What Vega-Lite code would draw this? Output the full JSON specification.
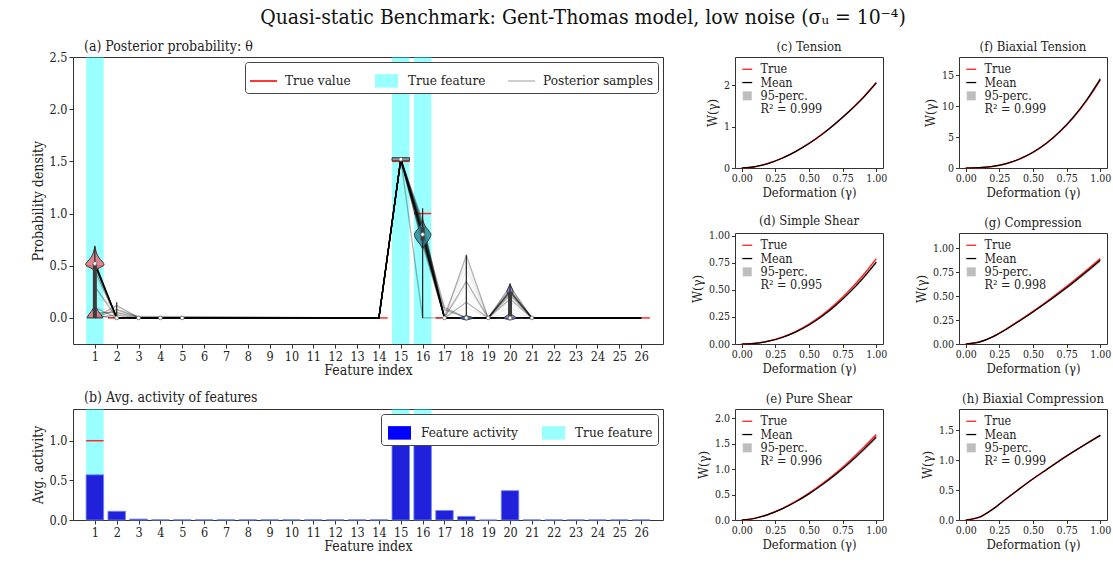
{
"$schema": "https://vega.github.io/schema/vega-lite/v6.json",
"background": "white",
"padding": {"left": 30, "top": 6, "right": 5, "bottom": 5},
"title": {"text": "Quasi-static Benchmark: Gent-Thomas model, low noise (σᵤ = 10⁻⁴)", "fontSize": 21, "font": "DejaVu Serif Condensed, DejaVu Serif", "fontWeight": "normal", "anchor": "middle", "offset": 12, "dx": 12, "color": "#111"},
"config": {
  "font": "DejaVu Serif Condensed, DejaVu Serif",
  "view": {"stroke": "#333", "strokeWidth": 1},
  "axis": {"grid": false, "domain": false, "tickColor": "#333", "tickSize": 4, "labelColor": "#222", "titleFontWeight": "normal", "titleColor": "#222", "labelFontSize": 12.5, "titleFontSize": 14, "labelFlush": false, "labelOverlap": false, "labelPadding": 2, "tickCount": 40},
  "axisX": {"titlePadding": 1},
  "scale": {"continuousPadding": 0},
  "title": {"fontWeight": "normal", "color": "#222"},
  "legend": {"labelColor": "#222", "symbolOpacity": 1}
},
"datasets": {
  "trueFeat": [{"f":1},{"f":15},{"f":16}],
  "trueVal": [{"f":1,"v":0.5},{"f":2,"v":0},{"f":3,"v":0},{"f":4,"v":0},{"f":5,"v":0},{"f":6,"v":0},{"f":7,"v":0},{"f":8,"v":0},{"f":9,"v":0},{"f":10,"v":0},{"f":11,"v":0},{"f":12,"v":0},{"f":13,"v":0},{"f":14,"v":0},{"f":15,"v":1.5},{"f":16,"v":1.0},{"f":17,"v":0},{"f":18,"v":0},{"f":19,"v":0},{"f":20,"v":0},{"f":21,"v":0},{"f":22,"v":0},{"f":23,"v":0},{"f":24,"v":0},{"f":25,"v":0},{"f":26,"v":0}],
  "trueAct": [{"f":1,"v":1},{"f":15,"v":1},{"f":16,"v":1}],
  "samples": [
{"s":1,"f":1,"v":0.52},{"s":1,"f":2,"v":0},{"s":1,"f":3,"v":0},{"s":1,"f":14,"v":0},{"s":1,"f":15,"v":1.52},{"s":1,"f":16,"v":0.80},{"s":1,"f":17,"v":0},{"s":1,"f":18,"v":0},{"s":1,"f":19,"v":0},{"s":1,"f":20,"v":0},{"s":1,"f":21,"v":0},{"s":1,"f":26,"v":0},
{"s":2,"f":1,"v":0.51},{"s":2,"f":2,"v":0},{"s":2,"f":3,"v":0},{"s":2,"f":14,"v":0},{"s":2,"f":15,"v":1.52},{"s":2,"f":16,"v":0.82},{"s":2,"f":17,"v":0},{"s":2,"f":18,"v":0},{"s":2,"f":19,"v":0},{"s":2,"f":20,"v":0.25},{"s":2,"f":21,"v":0},{"s":2,"f":26,"v":0},
{"s":3,"f":1,"v":0.53},{"s":3,"f":2,"v":0},{"s":3,"f":3,"v":0},{"s":3,"f":14,"v":0},{"s":3,"f":15,"v":1.53},{"s":3,"f":16,"v":0.78},{"s":3,"f":17,"v":0},{"s":3,"f":18,"v":0},{"s":3,"f":19,"v":0},{"s":3,"f":20,"v":0.26},{"s":3,"f":21,"v":0},{"s":3,"f":26,"v":0},
{"s":4,"f":1,"v":0.50},{"s":4,"f":2,"v":0},{"s":4,"f":3,"v":0},{"s":4,"f":14,"v":0},{"s":4,"f":15,"v":1.52},{"s":4,"f":16,"v":0.85},{"s":4,"f":17,"v":0},{"s":4,"f":18,"v":0},{"s":4,"f":19,"v":0},{"s":4,"f":20,"v":0},{"s":4,"f":21,"v":0},{"s":4,"f":26,"v":0},
{"s":5,"f":1,"v":0.52},{"s":5,"f":2,"v":0},{"s":5,"f":3,"v":0},{"s":5,"f":14,"v":0},{"s":5,"f":15,"v":1.51},{"s":5,"f":16,"v":0.79},{"s":5,"f":17,"v":0},{"s":5,"f":18,"v":0},{"s":5,"f":19,"v":0},{"s":5,"f":20,"v":0.24},{"s":5,"f":21,"v":0},{"s":5,"f":26,"v":0},
{"s":6,"f":1,"v":0.54},{"s":6,"f":2,"v":0},{"s":6,"f":3,"v":0},{"s":6,"f":14,"v":0},{"s":6,"f":15,"v":1.52},{"s":6,"f":16,"v":0.76},{"s":6,"f":17,"v":0},{"s":6,"f":18,"v":0},{"s":6,"f":19,"v":0},{"s":6,"f":20,"v":0},{"s":6,"f":21,"v":0},{"s":6,"f":26,"v":0},
{"s":7,"f":1,"v":0.51},{"s":7,"f":2,"v":0},{"s":7,"f":3,"v":0},{"s":7,"f":14,"v":0},{"s":7,"f":15,"v":1.52},{"s":7,"f":16,"v":0.83},{"s":7,"f":17,"v":0},{"s":7,"f":18,"v":0},{"s":7,"f":19,"v":0},{"s":7,"f":20,"v":0},{"s":7,"f":21,"v":0},{"s":7,"f":26,"v":0},
{"s":8,"f":1,"v":0.52},{"s":8,"f":2,"v":0},{"s":8,"f":3,"v":0},{"s":8,"f":14,"v":0},{"s":8,"f":15,"v":1.52},{"s":8,"f":16,"v":0.81},{"s":8,"f":17,"v":0},{"s":8,"f":18,"v":0},{"s":8,"f":19,"v":0},{"s":8,"f":20,"v":0.27},{"s":8,"f":21,"v":0},{"s":8,"f":26,"v":0},
{"s":9,"f":1,"v":0.49},{"s":9,"f":2,"v":0},{"s":9,"f":3,"v":0},{"s":9,"f":14,"v":0},{"s":9,"f":15,"v":1.53},{"s":9,"f":16,"v":0.88},{"s":9,"f":17,"v":0},{"s":9,"f":18,"v":0},{"s":9,"f":19,"v":0},{"s":9,"f":20,"v":0},{"s":9,"f":21,"v":0},{"s":9,"f":26,"v":0},
{"s":10,"f":1,"v":0.53},{"s":10,"f":2,"v":0},{"s":10,"f":3,"v":0},{"s":10,"f":14,"v":0},{"s":10,"f":15,"v":1.52},{"s":10,"f":16,"v":0.77},{"s":10,"f":17,"v":0},{"s":10,"f":18,"v":0},{"s":10,"f":19,"v":0},{"s":10,"f":20,"v":0},{"s":10,"f":21,"v":0},{"s":10,"f":26,"v":0},
{"s":11,"f":1,"v":0.52},{"s":11,"f":2,"v":0},{"s":11,"f":3,"v":0},{"s":11,"f":14,"v":0},{"s":11,"f":15,"v":1.52},{"s":11,"f":16,"v":0.80},{"s":11,"f":17,"v":0},{"s":11,"f":18,"v":0},{"s":11,"f":19,"v":0},{"s":11,"f":20,"v":0.25},{"s":11,"f":21,"v":0},{"s":11,"f":26,"v":0},
{"s":12,"f":1,"v":0},{"s":12,"f":2,"v":0.12},{"s":12,"f":3,"v":0},{"s":12,"f":14,"v":0},{"s":12,"f":15,"v":1.52},{"s":12,"f":16,"v":0.74},{"s":12,"f":17,"v":0},{"s":12,"f":18,"v":0},{"s":12,"f":19,"v":0},{"s":12,"f":20,"v":0},{"s":12,"f":21,"v":0},{"s":12,"f":26,"v":0},
{"s":13,"f":1,"v":0.05},{"s":13,"f":2,"v":0.05},{"s":13,"f":3,"v":0.01},{"s":13,"f":14,"v":0},{"s":13,"f":15,"v":1.52},{"s":13,"f":16,"v":0.90},{"s":13,"f":17,"v":0},{"s":13,"f":18,"v":0},{"s":13,"f":19,"v":0},{"s":13,"f":20,"v":0},{"s":13,"f":21,"v":0},{"s":13,"f":26,"v":0},
{"s":14,"f":1,"v":0.02},{"s":14,"f":2,"v":0},{"s":14,"f":3,"v":0},{"s":14,"f":14,"v":0},{"s":14,"f":15,"v":1.51},{"s":14,"f":16,"v":0.72},{"s":14,"f":17,"v":0.08},{"s":14,"f":18,"v":0},{"s":14,"f":19,"v":0},{"s":14,"f":20,"v":0},{"s":14,"f":21,"v":0},{"s":14,"f":26,"v":0},
{"s":15,"f":1,"v":0},{"s":15,"f":2,"v":0.03},{"s":15,"f":3,"v":0},{"s":15,"f":14,"v":0},{"s":15,"f":15,"v":1.52},{"s":15,"f":16,"v":0.93},{"s":15,"f":17,"v":0},{"s":15,"f":18,"v":0.6},{"s":15,"f":19,"v":0},{"s":15,"f":20,"v":0},{"s":15,"f":21,"v":0},{"s":15,"f":26,"v":0},
{"s":16,"f":1,"v":0.1},{"s":16,"f":2,"v":0},{"s":16,"f":3,"v":0},{"s":16,"f":14,"v":0},{"s":16,"f":15,"v":1.52},{"s":16,"f":16,"v":0.70},{"s":16,"f":17,"v":0},{"s":16,"f":18,"v":0.35},{"s":16,"f":19,"v":0},{"s":16,"f":20,"v":0},{"s":16,"f":21,"v":0},{"s":16,"f":26,"v":0},
{"s":17,"f":1,"v":0},{"s":17,"f":2,"v":0.08},{"s":17,"f":3,"v":0.01},{"s":17,"f":14,"v":0},{"s":17,"f":15,"v":1.52},{"s":17,"f":16,"v":0.86},{"s":17,"f":17,"v":0},{"s":17,"f":18,"v":0},{"s":17,"f":19,"v":0},{"s":17,"f":20,"v":0.3},{"s":17,"f":21,"v":0},{"s":17,"f":26,"v":0},
{"s":18,"f":1,"v":0.3},{"s":18,"f":2,"v":0},{"s":18,"f":3,"v":0},{"s":18,"f":14,"v":0},{"s":18,"f":15,"v":1.52},{"s":18,"f":16,"v":0},{"s":18,"f":17,"v":0},{"s":18,"f":18,"v":0},{"s":18,"f":19,"v":0},{"s":18,"f":20,"v":0},{"s":18,"f":21,"v":0},{"s":18,"f":26,"v":0},
{"s":19,"f":1,"v":0.52},{"s":19,"f":2,"v":0},{"s":19,"f":3,"v":0},{"s":19,"f":14,"v":0},{"s":19,"f":15,"v":1.52},{"s":19,"f":16,"v":0.84},{"s":19,"f":17,"v":0.1},{"s":19,"f":18,"v":0},{"s":19,"f":19,"v":0},{"s":19,"f":20,"v":0.22},{"s":19,"f":21,"v":0},{"s":19,"f":26,"v":0},
{"s":20,"f":1,"v":0.45},{"s":20,"f":2,"v":0},{"s":20,"f":3,"v":0},{"s":20,"f":14,"v":0},{"s":20,"f":15,"v":1.52},{"s":20,"f":16,"v":0.79},{"s":20,"f":17,"v":0},{"s":20,"f":18,"v":0.15},{"s":20,"f":19,"v":0},{"s":20,"f":20,"v":0.18},{"s":20,"f":21,"v":0},{"s":20,"f":26,"v":0}
  ],
  "faint": [
{"s":1,"f":1,"v":0.3},{"s":1,"f":2,"v":0.05},{"s":1,"f":3,"v":0},{"s":1,"f":14,"v":0},{"s":1,"f":15,"v":1.52},{"s":1,"f":16,"v":0.85},{"s":1,"f":17,"v":0},{"s":1,"f":18,"v":0.45},{"s":1,"f":19,"v":0},{"s":1,"f":20,"v":0.1},{"s":1,"f":21,"v":0},{"s":1,"f":26,"v":0},
{"s":2,"f":1,"v":0.2},{"s":2,"f":2,"v":0.1},{"s":2,"f":3,"v":0.02},{"s":2,"f":14,"v":0},{"s":2,"f":15,"v":1.52},{"s":2,"f":16,"v":0.8},{"s":2,"f":17,"v":0.02},{"s":2,"f":18,"v":0.3},{"s":2,"f":19,"v":0},{"s":2,"f":20,"v":0.2},{"s":2,"f":21,"v":0},{"s":2,"f":26,"v":0},
{"s":3,"f":1,"v":0.4},{"s":3,"f":2,"v":0.02},{"s":3,"f":3,"v":0},{"s":3,"f":14,"v":0},{"s":3,"f":15,"v":1.52},{"s":3,"f":16,"v":0.78},{"s":3,"f":17,"v":0},{"s":3,"f":18,"v":0.2},{"s":3,"f":19,"v":0},{"s":3,"f":20,"v":0.3},{"s":3,"f":21,"v":0},{"s":3,"f":26,"v":0},
{"s":4,"f":1,"v":0.1},{"s":4,"f":2,"v":0.06},{"s":4,"f":3,"v":0.01},{"s":4,"f":14,"v":0},{"s":4,"f":15,"v":1.52},{"s":4,"f":16,"v":0.9},{"s":4,"f":17,"v":0.05},{"s":4,"f":18,"v":0.5},{"s":4,"f":19,"v":0},{"s":4,"f":20,"v":0.15},{"s":4,"f":21,"v":0},{"s":4,"f":26,"v":0},
{"s":5,"f":1,"v":0.45},{"s":5,"f":2,"v":0},{"s":5,"f":3,"v":0},{"s":5,"f":14,"v":0},{"s":5,"f":15,"v":1.52},{"s":5,"f":16,"v":0.82},{"s":5,"f":17,"v":0},{"s":5,"f":18,"v":0.1},{"s":5,"f":19,"v":0},{"s":5,"f":20,"v":0.28},{"s":5,"f":21,"v":0},{"s":5,"f":26,"v":0},
{"s":6,"f":1,"v":0.25},{"s":6,"f":2,"v":0.08},{"s":6,"f":3,"v":0},{"s":6,"f":14,"v":0},{"s":6,"f":15,"v":1.52},{"s":6,"f":16,"v":0.76},{"s":6,"f":17,"v":0.03},{"s":6,"f":18,"v":0.55},{"s":6,"f":19,"v":0},{"s":6,"f":20,"v":0.05},{"s":6,"f":21,"v":0},{"s":6,"f":26,"v":0}
  ],
  "violins": [
{"vid":"v1a","c":"p1","y":0,"xl":0.64,"xr":1.36},{"vid":"v1a","c":"p1","y":0.03,"xl":0.72,"xr":1.28},{"vid":"v1a","c":"p1","y":0.06,"xl":0.83,"xr":1.17},{"vid":"v1a","c":"p1","y":0.09,"xl":0.92,"xr":1.08},{"vid":"v1a","c":"p1","y":0.12,"xl":0.97,"xr":1.03},{"vid":"v1a","c":"p1","y":0.14,"xl":1,"xr":1},
{"vid":"v1b","c":"p1","y":0.44,"xl":1,"xr":1},{"vid":"v1b","c":"p1","y":0.47,"xl":0.88,"xr":1.12},{"vid":"v1b","c":"p1","y":0.49,"xl":0.7,"xr":1.3},{"vid":"v1b","c":"p1","y":0.51,"xl":0.58,"xr":1.42},{"vid":"v1b","c":"p1","y":0.53,"xl":0.62,"xr":1.38},{"vid":"v1b","c":"p1","y":0.56,"xl":0.75,"xr":1.25},{"vid":"v1b","c":"p1","y":0.6,"xl":0.88,"xr":1.12},{"vid":"v1b","c":"p1","y":0.64,"xl":0.95,"xr":1.05},{"vid":"v1b","c":"p1","y":0.69,"xl":1,"xr":1},
{"vid":"v15","c":"p15","y":1.505,"xl":14.6,"xr":15.4},{"vid":"v15","c":"p15","y":1.535,"xl":14.6,"xr":15.4},
{"vid":"v16","c":"p16","y":0.66,"xl":16,"xr":16},{"vid":"v16","c":"p16","y":0.7,"xl":15.9,"xr":16.1},{"vid":"v16","c":"p16","y":0.74,"xl":15.75,"xr":16.25},{"vid":"v16","c":"p16","y":0.78,"xl":15.64,"xr":16.36},{"vid":"v16","c":"p16","y":0.8,"xl":15.62,"xr":16.38},{"vid":"v16","c":"p16","y":0.83,"xl":15.7,"xr":16.3},{"vid":"v16","c":"p16","y":0.87,"xl":15.85,"xr":16.15},{"vid":"v16","c":"p16","y":0.91,"xl":15.95,"xr":16.05},{"vid":"v16","c":"p16","y":0.95,"xl":16,"xr":16},
{"vid":"v18","c":"p18","y":-0.02,"xl":18,"xr":18},{"vid":"v18","c":"p18","y":0,"xl":17.7,"xr":18.3},{"vid":"v18","c":"p18","y":0.02,"xl":18,"xr":18},
{"vid":"v20a","c":"p20","y":-0.02,"xl":20,"xr":20},{"vid":"v20a","c":"p20","y":0,"xl":19.72,"xr":20.28},{"vid":"v20a","c":"p20","y":0.015,"xl":19.8,"xr":20.2},{"vid":"v20a","c":"p20","y":0.035,"xl":19.95,"xr":20.05},{"vid":"v20a","c":"p20","y":0.05,"xl":20,"xr":20},
{"vid":"v20b","c":"p20","y":0.19,"xl":20,"xr":20},{"vid":"v20b","c":"p20","y":0.22,"xl":19.92,"xr":20.08},{"vid":"v20b","c":"p20","y":0.25,"xl":19.86,"xr":20.14},{"vid":"v20b","c":"p20","y":0.28,"xl":19.9,"xr":20.1},{"vid":"v20b","c":"p20","y":0.31,"xl":19.97,"xr":20.03},{"vid":"v20b","c":"p20","y":0.33,"xl":20,"xr":20}
  ],
  "whisk": [{"f":1,"lo":0,"hi":0.68},{"f":2,"lo":0,"hi":0.15},{"f":16,"lo":0,"hi":1.05},{"f":18,"lo":0,"hi":0.6},{"f":20,"lo":0,"hi":0.32}],
  "boxes": [{"f":1,"lo":0,"hi":0.52},{"f":16,"lo":0.74,"hi":0.87},{"f":20,"lo":0,"hi":0.25}],
  "medians": [{"f":1,"v":0.52},{"f":2,"v":0},{"f":3,"v":0},{"f":4,"v":0},{"f":5,"v":0},{"f":15,"v":1.52},{"f":16,"v":0.8},{"f":17,"v":0},{"f":18,"v":0},{"f":19,"v":0},{"f":20,"v":0},{"f":21,"v":0}],
  "activity": [{"f":1,"a":0.57},{"f":2,"a":0.11},{"f":3,"a":0.012},{"f":4,"a":0.003},{"f":5,"a":0.003},{"f":6,"a":0.003},{"f":7,"a":0.003},{"f":8,"a":0.003},{"f":9,"a":0.003},{"f":10,"a":0.003},{"f":11,"a":0.003},{"f":12,"a":0.003},{"f":13,"a":0.003},{"f":14,"a":0.003},{"f":15,"a":1.0},{"f":16,"a":0.99},{"f":17,"a":0.12},{"f":18,"a":0.045},{"f":19,"a":0.0},{"f":20,"a":0.37},{"f":21,"a":0.002},{"f":22,"a":0.002},{"f":23,"a":0.002},{"f":24,"a":0.002},{"f":25,"a":0.002},{"f":26,"a":0.002}],
  "c": [{"g":0,"t":0,"m":0,"lo":0,"hi":0},{"g":0.1,"t":0.033,"m":0.033,"lo":0.032,"hi":0.034},{"g":0.2,"t":0.114,"m":0.113,"lo":0.111,"hi":0.115},{"g":0.3,"t":0.239,"m":0.238,"lo":0.234,"hi":0.242},{"g":0.4,"t":0.399,"m":0.397,"lo":0.391,"hi":0.403},{"g":0.5,"t":0.594,"m":0.591,"lo":0.582,"hi":0.6},{"g":0.6,"t":0.825,"m":0.821,"lo":0.809,"hi":0.833},{"g":0.7,"t":1.09,"m":1.085,"lo":1.069,"hi":1.101},{"g":0.8,"t":1.38,"m":1.374,"lo":1.354,"hi":1.394},{"g":0.9,"t":1.7,"m":1.693,"lo":1.668,"hi":1.718},{"g":1.0,"t":2.07,"m":2.062,"lo":2.031,"hi":2.093}],
  "f": [{"g":0,"t":0,"m":0,"lo":0,"hi":0},{"g":0.1,"t":0.045,"m":0.046,"lo":0.044,"hi":0.048},{"g":0.2,"t":0.256,"m":0.26,"lo":0.252,"hi":0.268},{"g":0.3,"t":0.7,"m":0.71,"lo":0.69,"hi":0.73},{"g":0.4,"t":1.45,"m":1.47,"lo":1.43,"hi":1.51},{"g":0.5,"t":2.53,"m":2.56,"lo":2.49,"hi":2.63},{"g":0.6,"t":3.99,"m":4.03,"lo":3.92,"hi":4.14},{"g":0.7,"t":5.87,"m":5.93,"lo":5.77,"hi":6.09},{"g":0.8,"t":8.18,"m":8.26,"lo":8.04,"hi":8.48},{"g":0.9,"t":10.97,"m":11.07,"lo":10.78,"hi":11.36},{"g":1.0,"t":14.3,"m":14.42,"lo":14.05,"hi":14.79}],
  "d": [{"g":0,"t":0,"m":0,"lo":0,"hi":0},{"g":0.1,"t":0.0063,"m":0.006,"lo":0.0058,"hi":0.0062},{"g":0.2,"t":0.027,"m":0.026,"lo":0.025,"hi":0.027},{"g":0.3,"t":0.063,"m":0.06,"lo":0.058,"hi":0.062},{"g":0.4,"t":0.115,"m":0.11,"lo":0.107,"hi":0.113},{"g":0.5,"t":0.184,"m":0.176,"lo":0.171,"hi":0.181},{"g":0.6,"t":0.27,"m":0.259,"lo":0.252,"hi":0.266},{"g":0.7,"t":0.374,"m":0.359,"lo":0.349,"hi":0.368},{"g":0.8,"t":0.495,"m":0.475,"lo":0.462,"hi":0.487},{"g":0.9,"t":0.633,"m":0.608,"lo":0.592,"hi":0.623},{"g":1.0,"t":0.79,"m":0.758,"lo":0.738,"hi":0.777}],
  "g": [{"g":0,"t":0,"m":0,"lo":0,"hi":0},{"g":0.1,"t":0.02,"m":0.02,"lo":0.019,"hi":0.021},{"g":0.2,"t":0.075,"m":0.074,"lo":0.072,"hi":0.076},{"g":0.3,"t":0.155,"m":0.152,"lo":0.148,"hi":0.156},{"g":0.4,"t":0.245,"m":0.241,"lo":0.235,"hi":0.247},{"g":0.5,"t":0.34,"m":0.334,"lo":0.326,"hi":0.342},{"g":0.6,"t":0.44,"m":0.432,"lo":0.421,"hi":0.443},{"g":0.7,"t":0.545,"m":0.535,"lo":0.522,"hi":0.548},{"g":0.8,"t":0.655,"m":0.642,"lo":0.626,"hi":0.658},{"g":0.9,"t":0.77,"m":0.755,"lo":0.736,"hi":0.774},{"g":1.0,"t":0.89,"m":0.873,"lo":0.851,"hi":0.895}],
  "e": [{"g":0,"t":0,"m":0,"lo":0,"hi":0},{"g":0.1,"t":0.036,"m":0.035,"lo":0.034,"hi":0.036},{"g":0.2,"t":0.114,"m":0.111,"lo":0.108,"hi":0.114},{"g":0.3,"t":0.225,"m":0.219,"lo":0.213,"hi":0.225},{"g":0.4,"t":0.365,"m":0.355,"lo":0.345,"hi":0.365},{"g":0.5,"t":0.529,"m":0.514,"lo":0.5,"hi":0.528},{"g":0.6,"t":0.716,"m":0.696,"lo":0.677,"hi":0.715},{"g":0.7,"t":0.925,"m":0.899,"lo":0.874,"hi":0.924},{"g":0.8,"t":1.157,"m":1.124,"lo":1.093,"hi":1.155},{"g":0.9,"t":1.41,"m":1.37,"lo":1.332,"hi":1.408},{"g":1.0,"t":1.68,"m":1.632,"lo":1.587,"hi":1.677}],
  "h": [{"g":0,"t":0,"m":0,"lo":0,"hi":0},{"g":0.1,"t":0.045,"m":0.045,"lo":0.044,"hi":0.046},{"g":0.2,"t":0.18,"m":0.18,"lo":0.177,"hi":0.183},{"g":0.3,"t":0.355,"m":0.354,"lo":0.349,"hi":0.359},{"g":0.4,"t":0.525,"m":0.524,"lo":0.517,"hi":0.531},{"g":0.5,"t":0.69,"m":0.689,"lo":0.68,"hi":0.698},{"g":0.6,"t":0.845,"m":0.844,"lo":0.833,"hi":0.855},{"g":0.7,"t":1.0,"m":0.998,"lo":0.985,"hi":1.011},{"g":0.8,"t":1.145,"m":1.143,"lo":1.128,"hi":1.158},{"g":0.9,"t":1.285,"m":1.283,"lo":1.266,"hi":1.3},{"g":1.0,"t":1.42,"m":1.418,"lo":1.399,"hi":1.437}]
},
"spacing": 26,
"resolve": {"scale": {"color": "independent", "shape": "independent", "fill": "independent"}},
"hconcat": [
 {"vconcat": [
  {"width": 590, "height": 287,
   "title": {"text": "(a) Posterior  probability: θ", "anchor": "start", "frame": "group", "fontSize": 14, "dx": 11, "offset": -3},
   "layer": [
    {"data": {"name": "trueFeat"}, "mark": {"type": "bar", "color": "#00ffff", "opacity": 0.4, "width": 17.5},
     "encoding": {"x": {"field": "f", "type": "quantitative", "scale": {"domain": [0, 27], "nice": false, "zero": false, "padding": 0}, "axis": {"values": [1,2,3,4,5,6,7,8,9,10,11,12,13,14,15,16,17,18,19,20,21,22,23,24,25,26], "format": "d", "labelOverlap": false, "tickCount": 40}, "title": "Feature index"},
      "y": {"datum": -0.25, "type": "quantitative", "scale": {"domain": [-0.25, 2.5], "nice": false, "zero": false, "padding": 0}, "axis": {"values": [0, 0.5, 1, 1.5, 2, 2.5], "format": ".1f", "labelOverlap": false, "tickCount": 40}, "title": "Probability density"},
      "y2": {"datum": 2.5}}},
    {"data": {"name": "trueVal"}, "mark": {"type": "tick", "orient": "horizontal", "color": "#ff2a2a", "opacity": 1, "size": 17.5, "thickness": 1.5},
     "encoding": {"x": {"field": "f", "type": "quantitative", "title": "Feature index"}, "y": {"field": "v", "type": "quantitative", "title": "Probability density"}}},
    {"data": {"name": "faint"}, "mark": {"type": "line", "color": "#888888", "opacity": 0.18, "strokeWidth": 1},
     "encoding": {"x": {"field": "f", "type": "quantitative", "title": "Feature index"}, "y": {"field": "v", "type": "quantitative", "title": "Probability density"}, "detail": {"field": "s"}}},
    {"data": {"name": "samples"}, "mark": {"type": "line", "color": "#000000", "opacity": 0.3, "strokeWidth": 1.3},
     "encoding": {"x": {"field": "f", "type": "quantitative", "title": "Feature index"}, "y": {"field": "v", "type": "quantitative", "title": "Probability density"}, "detail": {"field": "s"}}},
    {"data": {"name": "violins"}, "mark": {"type": "area", "orient": "horizontal", "stroke": "#333333", "strokeWidth": 1, "fillOpacity": 0.85, "interpolate": "monotone"},
     "encoding": {"y": {"field": "y", "type": "quantitative", "title": "Probability density"}, "x": {"field": "xl", "type": "quantitative", "title": "Feature index"}, "x2": {"field": "xr"},
      "fill": {"field": "c", "type": "nominal", "scale": {"domain": ["p1","p15","p16","p18","p20"], "range": ["#e8707e","#888888","#2f8a9b","#4d7cc9","#7d7bd6"]}, "legend": null},
      "detail": {"field": "vid"}}},
    {"data": {"name": "whisk"}, "mark": {"type": "rule", "color": "#222222", "strokeWidth": 1.2},
     "encoding": {"x": {"field": "f", "type": "quantitative", "title": "Feature index"}, "y": {"field": "lo", "type": "quantitative", "title": "Probability density"}, "y2": {"field": "hi"}}},
    {"data": {"name": "boxes"}, "mark": {"type": "rule", "color": "#3c3c3c", "strokeWidth": 4},
     "encoding": {"x": {"field": "f", "type": "quantitative", "title": "Feature index"}, "y": {"field": "lo", "type": "quantitative", "title": "Probability density"}, "y2": {"field": "hi"}}},
    {"data": {"name": "medians"}, "mark": {"type": "point", "filled": true, "fill": "#ffffff", "stroke": "#666666", "strokeWidth": 0.8, "size": 14, "opacity": 1},
     "encoding": {"x": {"field": "f", "type": "quantitative", "title": "Feature index"}, "y": {"field": "v", "type": "quantitative", "title": "Probability density"}}},
    {"data": {"values": [{"k": "True value"}, {"k": "True feature"}, {"k": "Posterior samples"}]},
     "mark": {"type": "point", "filled": true, "opacity": 0},
     "encoding": {
      "color": {"field": "k", "type": "nominal", "scale": {"domain": ["True value", "True feature", "Posterior samples"], "range": ["#ff2a2a", "#99ffff", "#999999"]},
        "legend": {"title": null, "orient": "top-right", "offset": 5, "direction": "horizontal", "labelFontSize": 13.5, "symbolSize": 729, "symbolStrokeWidth": 0, "symbolOpacity": 1, "labelOffset": 8, "columnPadding": 22, "padding": 5, "strokeColor": "#444444", "cornerRadius": 3, "fillColor": "#ffffff", "encode": {"symbols": {"update": {"opacity": {"value": 1}}}}}},
      "shape": {"field": "k", "type": "nominal", "scale": {"domain": ["True value", "True feature", "Posterior samples"], "range": ["M-1,-0.07H1V0.07H-1Z", "M-0.85,-0.5H0.85V0.5H-0.85Z", "M-1,-0.035H1V0.035H-1Z"]},
        "legend": {"title": null, "orient": "top-right", "offset": 5, "direction": "horizontal", "labelFontSize": 13.5, "symbolSize": 729, "symbolStrokeWidth": 0, "symbolOpacity": 1, "labelOffset": 8, "columnPadding": 22, "padding": 5, "strokeColor": "#444444", "cornerRadius": 3, "fillColor": "#ffffff", "encode": {"symbols": {"update": {"opacity": {"value": 1}}}}}}}}
   ]},
  {"width": 590, "height": 111,
   "title": {"text": "(b) Avg. activity of features", "anchor": "start", "frame": "group", "fontSize": 14, "dx": 11, "offset": 4},
   "layer": [
    {"data": {"name": "trueFeat"}, "mark": {"type": "bar", "color": "#00ffff", "opacity": 0.4, "width": 17.5},
     "encoding": {"x": {"field": "f", "type": "quantitative", "scale": {"domain": [0, 27], "nice": false, "zero": false, "padding": 0}, "axis": {"values": [1,2,3,4,5,6,7,8,9,10,11,12,13,14,15,16,17,18,19,20,21,22,23,24,25,26], "format": "d", "labelOverlap": false, "tickCount": 40}, "title": "Feature index"},
      "y": {"datum": 0, "type": "quantitative", "scale": {"domain": [0, 1.4], "nice": false, "padding": 0}, "axis": {"values": [0, 0.5, 1.0], "format": ".1f", "tickCount": 40}, "title": "Avg. activity"},
      "y2": {"datum": 1.4}}},
    {"data": {"name": "activity"}, "mark": {"type": "bar", "color": "#2121dc", "width": 17.5, "stroke": "#6f86f5", "strokeWidth": 0.8},
     "encoding": {"x": {"field": "f", "type": "quantitative", "title": "Feature index"}, "y": {"field": "a", "type": "quantitative", "title": "Avg. activity"}}},
    {"data": {"name": "trueAct"}, "mark": {"type": "tick", "orient": "horizontal", "color": "#ff2a2a", "opacity": 1, "size": 17.5, "thickness": 1.5},
     "encoding": {"x": {"field": "f", "type": "quantitative", "title": "Feature index"}, "y": {"field": "v", "type": "quantitative", "title": "Avg. activity"}}},
    {"data": {"values": [{"k": "Feature activity"}, {"k": "True feature"}]},
     "mark": {"type": "point", "filled": true, "opacity": 0},
     "encoding": {
      "color": {"field": "k", "type": "nominal", "scale": {"domain": ["Feature activity", "True feature"], "range": ["#0000ff", "#99ffff"]},
        "legend": {"title": null, "orient": "top-right", "offset": 5, "direction": "horizontal", "labelFontSize": 13.5, "symbolSize": 729, "symbolStrokeWidth": 0, "symbolOpacity": 1, "labelOffset": 8, "columnPadding": 22, "padding": 5, "strokeColor": "#444444", "cornerRadius": 3, "fillColor": "#ffffff", "encode": {"symbols": {"update": {"opacity": {"value": 1}}}}}},
      "shape": {"field": "k", "type": "nominal", "scale": {"domain": ["Feature activity", "True feature"], "range": ["M-0.85,-0.5H0.85V0.5H-0.85Z", "M-0.85,-0.5H0.85V0.5H-0.85Z"]},
        "legend": {"title": null, "orient": "top-right", "offset": 5, "direction": "horizontal", "labelFontSize": 13.5, "symbolSize": 729, "symbolStrokeWidth": 0, "symbolOpacity": 1, "labelOffset": 8, "columnPadding": 22, "padding": 5, "strokeColor": "#444444", "cornerRadius": 3, "fillColor": "#ffffff", "encode": {"symbols": {"update": {"opacity": {"value": 1}}}}}}}}
   ]}
  ],
  "bounds": "flush", "spacing": 65,
  "resolve": {"scale": {"color": "independent", "shape": "independent", "fill": "independent"}}},
 {"vconcat": [
  {"width": 148, "height": 111, "title": {"text": "(c) Tension", "frame": "group", "fontSize": 13, "offset": 3}, "data": {"name": "c"},
   "layer": [
    {"mark": {"type": "area", "color": "#bdbdbd", "opacity": 0.8, "interpolate": "monotone"},
     "encoding": {"x": {"field": "g", "type": "quantitative", "scale": {"domain": [-0.05, 1.05], "nice": false, "zero": false, "padding": 0}, "axis": {"values": [0, 0.25, 0.5, 0.75, 1], "format": ".2f", "labelFontSize": 10.5, "titleFontSize": 13, "tickSize": 3.5, "labelOverlap": false, "tickCount": 40, "titlePadding": 2}, "title": "Deformation (γ)"},
      "y": {"field": "lo", "type": "quantitative", "scale": {"domain": [0, 2.69], "nice": false, "padding": 0}, "axis": {"values": [0, 1, 2], "format": "d", "labelFontSize": 10.5, "titleFontSize": 13, "tickSize": 3.5, "labelOverlap": false, "tickCount": 40}, "title": "W(γ)"}, "y2": {"field": "hi"}}},
    {"mark": {"type": "line", "color": "#ff2020", "strokeWidth": 1.5, "interpolate": "monotone"}, "encoding": {"x": {"field": "g", "type": "quantitative", "title": "Deformation (γ)"}, "y": {"field": "t", "type": "quantitative", "title": "W(γ)"}}},
    {"mark": {"type": "line", "color": "#000000", "strokeWidth": 1.2, "interpolate": "monotone"}, "encoding": {"x": {"field": "g", "type": "quantitative", "title": "Deformation (γ)"}, "y": {"field": "m", "type": "quantitative", "title": "W(γ)"}}},
    {"data": {"values": [{"k": "True"}, {"k": "Mean"}, {"k": "95-perc."}, {"k": "R² = 0.999"}]}, "mark": {"type": "point", "filled": true, "opacity": 0},
     "encoding": {
      "color": {"field": "k", "type": "nominal", "scale": {"domain": ["True", "Mean", "95-perc.", "R² = 0.999"], "range": ["#ff2020", "#000000", "#bdbdbd", "rgba(0,0,0,0)"]}, "legend": {"title": null, "orient": "top-left", "offset": 6, "labelFontSize": 12.5, "symbolSize": 100, "symbolStrokeWidth": 0, "symbolOpacity": 1, "labelOffset": 7, "rowPadding": 0.3, "padding": 0, "encode": {"symbols": {"update": {"opacity": {"value": 1}}}}}},
      "shape": {"field": "k", "type": "nominal", "scale": {"domain": ["True", "Mean", "95-perc.", "R² = 0.999"], "range": ["M-1,-0.13H1V0.13H-1Z", "M-1,-0.13H1V0.13H-1Z", "M-0.9,-0.9H0.9V0.9H-0.9Z", "M-0.9,-0.9H0.9V0.9H-0.9Z"]}, "legend": {"title": null, "orient": "top-left", "offset": 6, "labelFontSize": 12.5, "symbolSize": 100, "symbolStrokeWidth": 0, "symbolOpacity": 1, "labelOffset": 7, "rowPadding": 0.3, "padding": 0, "encode": {"symbols": {"update": {"opacity": {"value": 1}}}}}}}}
   ]},
  {"width": 148, "height": 111, "title": {"text": "(d) Simple Shear", "frame": "group", "fontSize": 13, "offset": 3}, "data": {"name": "d"},
   "layer": [
    {"mark": {"type": "area", "color": "#bdbdbd", "opacity": 0.8, "interpolate": "monotone"},
     "encoding": {"x": {"field": "g", "type": "quantitative", "scale": {"domain": [-0.05, 1.05], "nice": false, "zero": false, "padding": 0}, "axis": {"values": [0, 0.25, 0.5, 0.75, 1], "format": ".2f", "labelFontSize": 10.5, "titleFontSize": 13, "tickSize": 3.5, "labelOverlap": false, "tickCount": 40, "titlePadding": 2}, "title": "Deformation (γ)"},
      "y": {"field": "lo", "type": "quantitative", "scale": {"domain": [0, 1.027], "nice": false, "padding": 0}, "axis": {"values": [0, 0.25, 0.5, 0.75, 1], "format": ".2f", "labelFontSize": 10.5, "titleFontSize": 13, "tickSize": 3.5, "labelOverlap": false, "tickCount": 40}, "title": "W(γ)"}, "y2": {"field": "hi"}}},
    {"mark": {"type": "line", "color": "#ff2020", "strokeWidth": 1.5, "interpolate": "monotone"}, "encoding": {"x": {"field": "g", "type": "quantitative", "title": "Deformation (γ)"}, "y": {"field": "t", "type": "quantitative", "title": "W(γ)"}}},
    {"mark": {"type": "line", "color": "#000000", "strokeWidth": 1.2, "interpolate": "monotone"}, "encoding": {"x": {"field": "g", "type": "quantitative", "title": "Deformation (γ)"}, "y": {"field": "m", "type": "quantitative", "title": "W(γ)"}}},
    {"data": {"values": [{"k": "True"}, {"k": "Mean"}, {"k": "95-perc."}, {"k": "R² = 0.995"}]}, "mark": {"type": "point", "filled": true, "opacity": 0},
     "encoding": {
      "color": {"field": "k", "type": "nominal", "scale": {"domain": ["True", "Mean", "95-perc.", "R² = 0.995"], "range": ["#ff2020", "#000000", "#bdbdbd", "rgba(0,0,0,0)"]}, "legend": {"title": null, "orient": "top-left", "offset": 6, "labelFontSize": 12.5, "symbolSize": 100, "symbolStrokeWidth": 0, "symbolOpacity": 1, "labelOffset": 7, "rowPadding": 0.3, "padding": 0, "encode": {"symbols": {"update": {"opacity": {"value": 1}}}}}},
      "shape": {"field": "k", "type": "nominal", "scale": {"domain": ["True", "Mean", "95-perc.", "R² = 0.995"], "range": ["M-1,-0.13H1V0.13H-1Z", "M-1,-0.13H1V0.13H-1Z", "M-0.9,-0.9H0.9V0.9H-0.9Z", "M-0.9,-0.9H0.9V0.9H-0.9Z"]}, "legend": {"title": null, "orient": "top-left", "offset": 6, "labelFontSize": 12.5, "symbolSize": 100, "symbolStrokeWidth": 0, "symbolOpacity": 1, "labelOffset": 7, "rowPadding": 0.3, "padding": 0, "encode": {"symbols": {"update": {"opacity": {"value": 1}}}}}}}}
   ]},
  {"width": 148, "height": 111, "title": {"text": "(e) Pure Shear", "frame": "group", "fontSize": 13, "offset": 3}, "data": {"name": "e"},
   "layer": [
    {"mark": {"type": "area", "color": "#bdbdbd", "opacity": 0.8, "interpolate": "monotone"},
     "encoding": {"x": {"field": "g", "type": "quantitative", "scale": {"domain": [-0.05, 1.05], "nice": false, "zero": false, "padding": 0}, "axis": {"values": [0, 0.25, 0.5, 0.75, 1], "format": ".2f", "labelFontSize": 10.5, "titleFontSize": 13, "tickSize": 3.5, "labelOverlap": false, "tickCount": 40, "titlePadding": 2}, "title": "Deformation (γ)"},
      "y": {"field": "lo", "type": "quantitative", "scale": {"domain": [0, 2.184], "nice": false, "padding": 0}, "axis": {"values": [0, 0.5, 1, 1.5, 2], "format": ".1f", "labelFontSize": 10.5, "titleFontSize": 13, "tickSize": 3.5, "labelOverlap": false, "tickCount": 40}, "title": "W(γ)"}, "y2": {"field": "hi"}}},
    {"mark": {"type": "line", "color": "#ff2020", "strokeWidth": 1.5, "interpolate": "monotone"}, "encoding": {"x": {"field": "g", "type": "quantitative", "title": "Deformation (γ)"}, "y": {"field": "t", "type": "quantitative", "title": "W(γ)"}}},
    {"mark": {"type": "line", "color": "#000000", "strokeWidth": 1.2, "interpolate": "monotone"}, "encoding": {"x": {"field": "g", "type": "quantitative", "title": "Deformation (γ)"}, "y": {"field": "m", "type": "quantitative", "title": "W(γ)"}}},
    {"data": {"values": [{"k": "True"}, {"k": "Mean"}, {"k": "95-perc."}, {"k": "R² = 0.996"}]}, "mark": {"type": "point", "filled": true, "opacity": 0},
     "encoding": {
      "color": {"field": "k", "type": "nominal", "scale": {"domain": ["True", "Mean", "95-perc.", "R² = 0.996"], "range": ["#ff2020", "#000000", "#bdbdbd", "rgba(0,0,0,0)"]}, "legend": {"title": null, "orient": "top-left", "offset": 6, "labelFontSize": 12.5, "symbolSize": 100, "symbolStrokeWidth": 0, "symbolOpacity": 1, "labelOffset": 7, "rowPadding": 0.3, "padding": 0, "encode": {"symbols": {"update": {"opacity": {"value": 1}}}}}},
      "shape": {"field": "k", "type": "nominal", "scale": {"domain": ["True", "Mean", "95-perc.", "R² = 0.996"], "range": ["M-1,-0.13H1V0.13H-1Z", "M-1,-0.13H1V0.13H-1Z", "M-0.9,-0.9H0.9V0.9H-0.9Z", "M-0.9,-0.9H0.9V0.9H-0.9Z"]}, "legend": {"title": null, "orient": "top-left", "offset": 6, "labelFontSize": 12.5, "symbolSize": 100, "symbolStrokeWidth": 0, "symbolOpacity": 1, "labelOffset": 7, "rowPadding": 0.3, "padding": 0, "encode": {"symbols": {"update": {"opacity": {"value": 1}}}}}}}}
   ]}
  ],
  "bounds": "flush", "spacing": 65,
  "resolve": {"scale": {"color": "independent", "shape": "independent"}}},
 {"vconcat": [
  {"width": 148, "height": 111, "title": {"text": "(f) Biaxial Tension", "frame": "group", "fontSize": 13, "offset": 3}, "data": {"name": "f"},
   "layer": [
    {"mark": {"type": "area", "color": "#bdbdbd", "opacity": 0.8, "interpolate": "monotone"},
     "encoding": {"x": {"field": "g", "type": "quantitative", "scale": {"domain": [-0.05, 1.05], "nice": false, "zero": false, "padding": 0}, "axis": {"values": [0, 0.25, 0.5, 0.75, 1], "format": ".2f", "labelFontSize": 10.5, "titleFontSize": 13, "tickSize": 3.5, "labelOverlap": false, "tickCount": 40, "titlePadding": 2}, "title": "Deformation (γ)"},
      "y": {"field": "lo", "type": "quantitative", "scale": {"domain": [0, 18.0], "nice": false, "padding": 0}, "axis": {"values": [0, 5, 10, 15], "format": "d", "labelFontSize": 10.5, "titleFontSize": 13, "tickSize": 3.5, "labelOverlap": false, "tickCount": 40}, "title": "W(γ)"}, "y2": {"field": "hi"}}},
    {"mark": {"type": "line", "color": "#ff2020", "strokeWidth": 1.5, "interpolate": "monotone"}, "encoding": {"x": {"field": "g", "type": "quantitative", "title": "Deformation (γ)"}, "y": {"field": "t", "type": "quantitative", "title": "W(γ)"}}},
    {"mark": {"type": "line", "color": "#000000", "strokeWidth": 1.2, "interpolate": "monotone"}, "encoding": {"x": {"field": "g", "type": "quantitative", "title": "Deformation (γ)"}, "y": {"field": "m", "type": "quantitative", "title": "W(γ)"}}},
    {"data": {"values": [{"k": "True"}, {"k": "Mean"}, {"k": "95-perc."}, {"k": "R² = 0.999"}]}, "mark": {"type": "point", "filled": true, "opacity": 0},
     "encoding": {
      "color": {"field": "k", "type": "nominal", "scale": {"domain": ["True", "Mean", "95-perc.", "R² = 0.999"], "range": ["#ff2020", "#000000", "#bdbdbd", "rgba(0,0,0,0)"]}, "legend": {"title": null, "orient": "top-left", "offset": 6, "labelFontSize": 12.5, "symbolSize": 100, "symbolStrokeWidth": 0, "symbolOpacity": 1, "labelOffset": 7, "rowPadding": 0.3, "padding": 0, "encode": {"symbols": {"update": {"opacity": {"value": 1}}}}}},
      "shape": {"field": "k", "type": "nominal", "scale": {"domain": ["True", "Mean", "95-perc.", "R² = 0.999"], "range": ["M-1,-0.13H1V0.13H-1Z", "M-1,-0.13H1V0.13H-1Z", "M-0.9,-0.9H0.9V0.9H-0.9Z", "M-0.9,-0.9H0.9V0.9H-0.9Z"]}, "legend": {"title": null, "orient": "top-left", "offset": 6, "labelFontSize": 12.5, "symbolSize": 100, "symbolStrokeWidth": 0, "symbolOpacity": 1, "labelOffset": 7, "rowPadding": 0.3, "padding": 0, "encode": {"symbols": {"update": {"opacity": {"value": 1}}}}}}}}
   ]},
  {"width": 148, "height": 111, "title": {"text": "(g) Compression", "frame": "group", "fontSize": 13, "offset": 3}, "data": {"name": "g"},
   "layer": [
    {"mark": {"type": "area", "color": "#bdbdbd", "opacity": 0.8, "interpolate": "monotone"},
     "encoding": {"x": {"field": "g", "type": "quantitative", "scale": {"domain": [-0.05, 1.05], "nice": false, "zero": false, "padding": 0}, "axis": {"values": [0, 0.25, 0.5, 0.75, 1], "format": ".2f", "labelFontSize": 10.5, "titleFontSize": 13, "tickSize": 3.5, "labelOverlap": false, "tickCount": 40, "titlePadding": 2}, "title": "Deformation (γ)"},
      "y": {"field": "lo", "type": "quantitative", "scale": {"domain": [0, 1.157], "nice": false, "padding": 0}, "axis": {"values": [0, 0.25, 0.5, 0.75, 1], "format": ".2f", "labelFontSize": 10.5, "titleFontSize": 13, "tickSize": 3.5, "labelOverlap": false, "tickCount": 40}, "title": "W(γ)"}, "y2": {"field": "hi"}}},
    {"mark": {"type": "line", "color": "#ff2020", "strokeWidth": 1.5, "interpolate": "monotone"}, "encoding": {"x": {"field": "g", "type": "quantitative", "title": "Deformation (γ)"}, "y": {"field": "t", "type": "quantitative", "title": "W(γ)"}}},
    {"mark": {"type": "line", "color": "#000000", "strokeWidth": 1.2, "interpolate": "monotone"}, "encoding": {"x": {"field": "g", "type": "quantitative", "title": "Deformation (γ)"}, "y": {"field": "m", "type": "quantitative", "title": "W(γ)"}}},
    {"data": {"values": [{"k": "True"}, {"k": "Mean"}, {"k": "95-perc."}, {"k": "R² = 0.998"}]}, "mark": {"type": "point", "filled": true, "opacity": 0},
     "encoding": {
      "color": {"field": "k", "type": "nominal", "scale": {"domain": ["True", "Mean", "95-perc.", "R² = 0.998"], "range": ["#ff2020", "#000000", "#bdbdbd", "rgba(0,0,0,0)"]}, "legend": {"title": null, "orient": "top-left", "offset": 6, "labelFontSize": 12.5, "symbolSize": 100, "symbolStrokeWidth": 0, "symbolOpacity": 1, "labelOffset": 7, "rowPadding": 0.3, "padding": 0, "encode": {"symbols": {"update": {"opacity": {"value": 1}}}}}},
      "shape": {"field": "k", "type": "nominal", "scale": {"domain": ["True", "Mean", "95-perc.", "R² = 0.998"], "range": ["M-1,-0.13H1V0.13H-1Z", "M-1,-0.13H1V0.13H-1Z", "M-0.9,-0.9H0.9V0.9H-0.9Z", "M-0.9,-0.9H0.9V0.9H-0.9Z"]}, "legend": {"title": null, "orient": "top-left", "offset": 6, "labelFontSize": 12.5, "symbolSize": 100, "symbolStrokeWidth": 0, "symbolOpacity": 1, "labelOffset": 7, "rowPadding": 0.3, "padding": 0, "encode": {"symbols": {"update": {"opacity": {"value": 1}}}}}}}}
   ]},
  {"width": 148, "height": 111, "title": {"text": "(h) Biaxial Compression", "frame": "group", "fontSize": 13, "offset": 3}, "data": {"name": "h"},
   "layer": [
    {"mark": {"type": "area", "color": "#bdbdbd", "opacity": 0.8, "interpolate": "monotone"},
     "encoding": {"x": {"field": "g", "type": "quantitative", "scale": {"domain": [-0.05, 1.05], "nice": false, "zero": false, "padding": 0}, "axis": {"values": [0, 0.25, 0.5, 0.75, 1], "format": ".2f", "labelFontSize": 10.5, "titleFontSize": 13, "tickSize": 3.5, "labelOverlap": false, "tickCount": 40, "titlePadding": 2}, "title": "Deformation (γ)"},
      "y": {"field": "lo", "type": "quantitative", "scale": {"domain": [0, 1.86], "nice": false, "padding": 0}, "axis": {"values": [0, 0.5, 1, 1.5], "format": ".1f", "labelFontSize": 10.5, "titleFontSize": 13, "tickSize": 3.5, "labelOverlap": false, "tickCount": 40}, "title": "W(γ)"}, "y2": {"field": "hi"}}},
    {"mark": {"type": "line", "color": "#ff2020", "strokeWidth": 1.5, "interpolate": "monotone"}, "encoding": {"x": {"field": "g", "type": "quantitative", "title": "Deformation (γ)"}, "y": {"field": "t", "type": "quantitative", "title": "W(γ)"}}},
    {"mark": {"type": "line", "color": "#000000", "strokeWidth": 1.2, "interpolate": "monotone"}, "encoding": {"x": {"field": "g", "type": "quantitative", "title": "Deformation (γ)"}, "y": {"field": "m", "type": "quantitative", "title": "W(γ)"}}},
    {"data": {"values": [{"k": "True"}, {"k": "Mean"}, {"k": "95-perc."}, {"k": "R² = 0.999"}]}, "mark": {"type": "point", "filled": true, "opacity": 0},
     "encoding": {
      "color": {"field": "k", "type": "nominal", "scale": {"domain": ["True", "Mean", "95-perc.", "R² = 0.999"], "range": ["#ff2020", "#000000", "#bdbdbd", "rgba(0,0,0,0)"]}, "legend": {"title": null, "orient": "top-left", "offset": 6, "labelFontSize": 12.5, "symbolSize": 100, "symbolStrokeWidth": 0, "symbolOpacity": 1, "labelOffset": 7, "rowPadding": 0.3, "padding": 0, "encode": {"symbols": {"update": {"opacity": {"value": 1}}}}}},
      "shape": {"field": "k", "type": "nominal", "scale": {"domain": ["True", "Mean", "95-perc.", "R² = 0.999"], "range": ["M-1,-0.13H1V0.13H-1Z", "M-1,-0.13H1V0.13H-1Z", "M-0.9,-0.9H0.9V0.9H-0.9Z", "M-0.9,-0.9H0.9V0.9H-0.9Z"]}, "legend": {"title": null, "orient": "top-left", "offset": 6, "labelFontSize": 12.5, "symbolSize": 100, "symbolStrokeWidth": 0, "symbolOpacity": 1, "labelOffset": 7, "rowPadding": 0.3, "padding": 0, "encode": {"symbols": {"update": {"opacity": {"value": 1}}}}}}}}
   ]}
  ],
  "bounds": "flush", "spacing": 65,
  "resolve": {"scale": {"color": "independent", "shape": "independent"}}}
]
}
